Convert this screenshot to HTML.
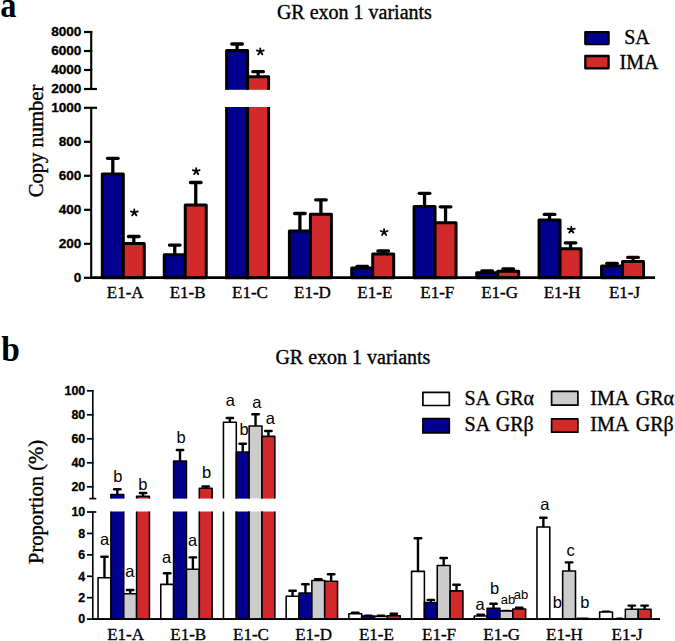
<!DOCTYPE html>
<html><head><meta charset="utf-8"><style>
html,body{margin:0;padding:0;background:#fff;width:675px;height:641px;overflow:hidden}
svg{display:block}
</style></head><body>
<svg width="675" height="641" viewBox="0 0 675 641">
<text transform="translate(0.2,16.8) scale(0.9,1)" font-family='"Liberation Serif", serif' font-size="36" font-weight="bold">a</text>
<text x="354.40" y="18.70" font-family='"Liberation Serif", serif' font-size="20" font-weight="normal" text-anchor="middle" stroke="#000" stroke-width="0.35" >GR exon 1 variants</text>
<text transform="translate(43.4,141) rotate(-90)" x="0" y="0" font-family='"Liberation Serif", serif' font-size="20.6" text-anchor="middle" stroke="#000" stroke-width="0.35">Copy number</text>
<line x1="91.20" y1="107.80" x2="91.20" y2="279.00" stroke="#000" stroke-width="2.1" stroke-linecap="butt"/>
<line x1="84.00" y1="277.80" x2="91.20" y2="277.80" stroke="#000" stroke-width="2.2" stroke-linecap="butt"/>
<text x="81.40" y="282.10" font-family='"Liberation Sans", sans-serif' font-size="13.6" font-weight="bold" text-anchor="end" stroke="#000" stroke-width="0.3" >0</text>
<line x1="84.00" y1="243.80" x2="91.20" y2="243.80" stroke="#000" stroke-width="2.2" stroke-linecap="butt"/>
<text x="81.40" y="248.10" font-family='"Liberation Sans", sans-serif' font-size="13.6" font-weight="bold" text-anchor="end" stroke="#000" stroke-width="0.3" >200</text>
<line x1="84.00" y1="209.80" x2="91.20" y2="209.80" stroke="#000" stroke-width="2.2" stroke-linecap="butt"/>
<text x="81.40" y="214.10" font-family='"Liberation Sans", sans-serif' font-size="13.6" font-weight="bold" text-anchor="end" stroke="#000" stroke-width="0.3" >400</text>
<line x1="84.00" y1="175.80" x2="91.20" y2="175.80" stroke="#000" stroke-width="2.2" stroke-linecap="butt"/>
<text x="81.40" y="180.10" font-family='"Liberation Sans", sans-serif' font-size="13.6" font-weight="bold" text-anchor="end" stroke="#000" stroke-width="0.3" >600</text>
<line x1="84.00" y1="141.80" x2="91.20" y2="141.80" stroke="#000" stroke-width="2.2" stroke-linecap="butt"/>
<text x="81.40" y="146.10" font-family='"Liberation Sans", sans-serif' font-size="13.6" font-weight="bold" text-anchor="end" stroke="#000" stroke-width="0.3" >800</text>
<line x1="84.00" y1="107.80" x2="97.00" y2="107.80" stroke="#000" stroke-width="2.2" stroke-linecap="butt"/>
<text x="81.40" y="112.10" font-family='"Liberation Sans", sans-serif' font-size="13.6" font-weight="bold" text-anchor="end" stroke="#000" stroke-width="0.3" >1000</text>
<line x1="91.20" y1="31.00" x2="91.20" y2="89.00" stroke="#000" stroke-width="2.1" stroke-linecap="butt"/>
<line x1="84.00" y1="32.00" x2="92.30" y2="32.00" stroke="#000" stroke-width="2.2" stroke-linecap="butt"/>
<text x="81.40" y="36.30" font-family='"Liberation Sans", sans-serif' font-size="13.6" font-weight="bold" text-anchor="end" stroke="#000" stroke-width="0.3" >8000</text>
<line x1="84.00" y1="51.00" x2="92.30" y2="51.00" stroke="#000" stroke-width="2.2" stroke-linecap="butt"/>
<text x="81.40" y="55.30" font-family='"Liberation Sans", sans-serif' font-size="13.6" font-weight="bold" text-anchor="end" stroke="#000" stroke-width="0.3" >6000</text>
<line x1="84.00" y1="70.00" x2="92.30" y2="70.00" stroke="#000" stroke-width="2.2" stroke-linecap="butt"/>
<text x="81.40" y="74.30" font-family='"Liberation Sans", sans-serif' font-size="13.6" font-weight="bold" text-anchor="end" stroke="#000" stroke-width="0.3" >4000</text>
<line x1="84.00" y1="89.00" x2="97.00" y2="89.00" stroke="#000" stroke-width="2.2" stroke-linecap="butt"/>
<text x="81.40" y="93.30" font-family='"Liberation Sans", sans-serif' font-size="13.6" font-weight="bold" text-anchor="end" stroke="#000" stroke-width="0.3" >2000</text>
<line x1="90.10" y1="277.80" x2="655.00" y2="277.80" stroke="#000" stroke-width="2.5" stroke-linecap="butt"/>
<line x1="112.80" y1="174.10" x2="112.80" y2="158.30" stroke="#000" stroke-width="3.3" stroke-linecap="butt"/>
<line x1="107.50" y1="158.30" x2="118.10" y2="158.30" stroke="#000" stroke-width="3.3" stroke-linecap="round"/>
<line x1="133.80" y1="243.50" x2="133.80" y2="236.50" stroke="#000" stroke-width="3.3" stroke-linecap="butt"/>
<line x1="128.50" y1="236.50" x2="139.10" y2="236.50" stroke="#000" stroke-width="3.3" stroke-linecap="round"/>
<rect x="102.30" y="174.10" width="21.00" height="103.70" fill="#00008c" stroke="#000" stroke-width="3" stroke-linejoin="round"/>
<rect x="123.30" y="243.50" width="21.00" height="34.30" fill="#d22a2a" stroke="#000" stroke-width="3" stroke-linejoin="round"/>
<line x1="174.75" y1="254.70" x2="174.75" y2="245.10" stroke="#000" stroke-width="3.3" stroke-linecap="butt"/>
<line x1="169.45" y1="245.10" x2="180.05" y2="245.10" stroke="#000" stroke-width="3.3" stroke-linecap="round"/>
<line x1="195.75" y1="204.90" x2="195.75" y2="182.50" stroke="#000" stroke-width="3.3" stroke-linecap="butt"/>
<line x1="190.45" y1="182.50" x2="201.05" y2="182.50" stroke="#000" stroke-width="3.3" stroke-linecap="round"/>
<rect x="164.25" y="254.70" width="21.00" height="23.10" fill="#00008c" stroke="#000" stroke-width="3" stroke-linejoin="round"/>
<rect x="185.25" y="204.90" width="21.00" height="72.90" fill="#d22a2a" stroke="#000" stroke-width="3" stroke-linejoin="round"/>
<line x1="237.10" y1="50.40" x2="237.10" y2="44.00" stroke="#000" stroke-width="3.3" stroke-linecap="butt"/>
<line x1="231.80" y1="44.00" x2="242.40" y2="44.00" stroke="#000" stroke-width="3.3" stroke-linecap="round"/>
<line x1="258.10" y1="76.70" x2="258.10" y2="71.70" stroke="#000" stroke-width="3.3" stroke-linecap="butt"/>
<line x1="252.80" y1="71.70" x2="263.40" y2="71.70" stroke="#000" stroke-width="3.3" stroke-linecap="round"/>
<path d="M226.60,89.8 V50.40 H247.60 V89.8" fill="#00008c" stroke="#000" stroke-width="3" stroke-linejoin="round"/>
<path d="M247.60,89.8 V76.70 H268.60 V89.8" fill="#d22a2a" stroke="#000" stroke-width="3" stroke-linejoin="round"/>
<path d="M226.60,107 V277.80 H247.60 V107" fill="#00008c" stroke="#000" stroke-width="3"/>
<path d="M247.60,107 V277.80 H268.60 V107" fill="#d22a2a" stroke="#000" stroke-width="3"/>
<line x1="299.90" y1="231.10" x2="299.90" y2="213.50" stroke="#000" stroke-width="3.3" stroke-linecap="butt"/>
<line x1="294.60" y1="213.50" x2="305.20" y2="213.50" stroke="#000" stroke-width="3.3" stroke-linecap="round"/>
<line x1="320.90" y1="214.30" x2="320.90" y2="199.80" stroke="#000" stroke-width="3.3" stroke-linecap="butt"/>
<line x1="315.60" y1="199.80" x2="326.20" y2="199.80" stroke="#000" stroke-width="3.3" stroke-linecap="round"/>
<rect x="289.40" y="231.10" width="21.00" height="46.70" fill="#00008c" stroke="#000" stroke-width="3" stroke-linejoin="round"/>
<rect x="310.40" y="214.30" width="21.00" height="63.50" fill="#d22a2a" stroke="#000" stroke-width="3" stroke-linejoin="round"/>
<line x1="362.20" y1="268.00" x2="362.20" y2="266.40" stroke="#000" stroke-width="3.3" stroke-linecap="butt"/>
<line x1="356.90" y1="266.40" x2="367.50" y2="266.40" stroke="#000" stroke-width="3.3" stroke-linecap="round"/>
<line x1="383.20" y1="253.90" x2="383.20" y2="251.00" stroke="#000" stroke-width="3.3" stroke-linecap="butt"/>
<line x1="377.90" y1="251.00" x2="388.50" y2="251.00" stroke="#000" stroke-width="3.3" stroke-linecap="round"/>
<rect x="351.70" y="268.00" width="21.00" height="9.80" fill="#00008c" stroke="#000" stroke-width="3" stroke-linejoin="round"/>
<rect x="372.70" y="253.90" width="21.00" height="23.90" fill="#d22a2a" stroke="#000" stroke-width="3" stroke-linejoin="round"/>
<line x1="424.55" y1="206.50" x2="424.55" y2="193.30" stroke="#000" stroke-width="3.3" stroke-linecap="butt"/>
<line x1="419.25" y1="193.30" x2="429.85" y2="193.30" stroke="#000" stroke-width="3.3" stroke-linecap="round"/>
<line x1="445.55" y1="222.80" x2="445.55" y2="206.80" stroke="#000" stroke-width="3.3" stroke-linecap="butt"/>
<line x1="440.25" y1="206.80" x2="450.85" y2="206.80" stroke="#000" stroke-width="3.3" stroke-linecap="round"/>
<rect x="414.05" y="206.50" width="21.00" height="71.30" fill="#00008c" stroke="#000" stroke-width="3" stroke-linejoin="round"/>
<rect x="435.05" y="222.80" width="21.00" height="55.00" fill="#d22a2a" stroke="#000" stroke-width="3" stroke-linejoin="round"/>
<line x1="487.20" y1="272.80" x2="487.20" y2="270.80" stroke="#000" stroke-width="3.3" stroke-linecap="butt"/>
<line x1="481.90" y1="270.80" x2="492.50" y2="270.80" stroke="#000" stroke-width="3.3" stroke-linecap="round"/>
<line x1="508.20" y1="271.20" x2="508.20" y2="268.80" stroke="#000" stroke-width="3.3" stroke-linecap="butt"/>
<line x1="502.90" y1="268.80" x2="513.50" y2="268.80" stroke="#000" stroke-width="3.3" stroke-linecap="round"/>
<rect x="476.70" y="272.80" width="21.00" height="5.00" fill="#00008c" stroke="#000" stroke-width="3" stroke-linejoin="round"/>
<rect x="497.70" y="271.20" width="21.00" height="6.60" fill="#d22a2a" stroke="#000" stroke-width="3" stroke-linejoin="round"/>
<line x1="549.55" y1="220.00" x2="549.55" y2="214.40" stroke="#000" stroke-width="3.3" stroke-linecap="butt"/>
<line x1="544.25" y1="214.40" x2="554.85" y2="214.40" stroke="#000" stroke-width="3.3" stroke-linecap="round"/>
<line x1="570.55" y1="248.70" x2="570.55" y2="242.80" stroke="#000" stroke-width="3.3" stroke-linecap="butt"/>
<line x1="565.25" y1="242.80" x2="575.85" y2="242.80" stroke="#000" stroke-width="3.3" stroke-linecap="round"/>
<rect x="539.05" y="220.00" width="21.00" height="57.80" fill="#00008c" stroke="#000" stroke-width="3" stroke-linejoin="round"/>
<rect x="560.05" y="248.70" width="21.00" height="29.10" fill="#d22a2a" stroke="#000" stroke-width="3" stroke-linejoin="round"/>
<line x1="612.05" y1="265.90" x2="612.05" y2="263.30" stroke="#000" stroke-width="3.3" stroke-linecap="butt"/>
<line x1="606.75" y1="263.30" x2="617.35" y2="263.30" stroke="#000" stroke-width="3.3" stroke-linecap="round"/>
<line x1="633.05" y1="261.50" x2="633.05" y2="257.40" stroke="#000" stroke-width="3.3" stroke-linecap="butt"/>
<line x1="627.75" y1="257.40" x2="638.35" y2="257.40" stroke="#000" stroke-width="3.3" stroke-linecap="round"/>
<rect x="601.55" y="265.90" width="21.00" height="11.90" fill="#00008c" stroke="#000" stroke-width="3" stroke-linejoin="round"/>
<rect x="622.55" y="261.50" width="21.00" height="16.30" fill="#d22a2a" stroke="#000" stroke-width="3" stroke-linejoin="round"/>
<line x1="90.10" y1="277.80" x2="655.00" y2="277.80" stroke="#000" stroke-width="2.5" stroke-linecap="butt"/>
<path d="M134.30,212.50 L134.30,209.50 M134.30,212.50 L137.75,211.40 M134.30,212.50 L136.40,215.40 M134.30,212.50 L132.20,215.40 M134.30,212.50 L130.85,211.40" stroke="#000" stroke-width="1.8" stroke-linecap="round" fill="none"/>
<path d="M196.20,171.20 L196.20,168.20 M196.20,171.20 L199.65,170.10 M196.20,171.20 L198.30,174.10 M196.20,171.20 L194.10,174.10 M196.20,171.20 L192.75,170.10" stroke="#000" stroke-width="1.8" stroke-linecap="round" fill="none"/>
<path d="M260.30,51.50 L260.30,48.50 M260.30,51.50 L263.75,50.40 M260.30,51.50 L262.40,54.40 M260.30,51.50 L258.20,54.40 M260.30,51.50 L256.85,50.40" stroke="#000" stroke-width="1.8" stroke-linecap="round" fill="none"/>
<path d="M384.10,232.10 L384.10,229.10 M384.10,232.10 L387.55,231.00 M384.10,232.10 L386.20,235.00 M384.10,232.10 L382.00,235.00 M384.10,232.10 L380.65,231.00" stroke="#000" stroke-width="1.8" stroke-linecap="round" fill="none"/>
<path d="M571.30,229.70 L571.30,226.70 M571.30,229.70 L574.75,228.60 M571.30,229.70 L573.40,232.60 M571.30,229.70 L569.20,232.60 M571.30,229.70 L567.85,228.60" stroke="#000" stroke-width="1.8" stroke-linecap="round" fill="none"/>
<text x="125.20" y="298.00" font-family='"Liberation Serif", serif' font-size="17" font-weight="normal" text-anchor="middle" stroke="#000" stroke-width="0.35" >E1-A</text>
<text x="187.61" y="298.00" font-family='"Liberation Serif", serif' font-size="17" font-weight="normal" text-anchor="middle" stroke="#000" stroke-width="0.35" >E1-B</text>
<text x="250.02" y="298.00" font-family='"Liberation Serif", serif' font-size="17" font-weight="normal" text-anchor="middle" stroke="#000" stroke-width="0.35" >E1-C</text>
<text x="312.43" y="298.00" font-family='"Liberation Serif", serif' font-size="17" font-weight="normal" text-anchor="middle" stroke="#000" stroke-width="0.35" >E1-D</text>
<text x="374.84" y="298.00" font-family='"Liberation Serif", serif' font-size="17" font-weight="normal" text-anchor="middle" stroke="#000" stroke-width="0.35" >E1-E</text>
<text x="437.25" y="298.00" font-family='"Liberation Serif", serif' font-size="17" font-weight="normal" text-anchor="middle" stroke="#000" stroke-width="0.35" >E1-F</text>
<text x="499.66" y="298.00" font-family='"Liberation Serif", serif' font-size="17" font-weight="normal" text-anchor="middle" stroke="#000" stroke-width="0.35" >E1-G</text>
<text x="562.07" y="298.00" font-family='"Liberation Serif", serif' font-size="17" font-weight="normal" text-anchor="middle" stroke="#000" stroke-width="0.35" >E1-H</text>
<text x="624.48" y="298.00" font-family='"Liberation Serif", serif' font-size="17" font-weight="normal" text-anchor="middle" stroke="#000" stroke-width="0.35" >E1-J</text>
<rect x="585.30" y="32.20" width="23.30" height="11.90" fill="#00008c" stroke="#000" stroke-width="2.3" stroke-linejoin="round"/>
<rect x="585.30" y="56.00" width="23.30" height="12.30" fill="#d22a2a" stroke="#000" stroke-width="2.3" stroke-linejoin="round"/>
<text x="637.00" y="44.20" font-family='"Liberation Serif", serif' font-size="20" font-weight="normal" text-anchor="middle" stroke="#000" stroke-width="0.35" >SA</text>
<text x="639.00" y="68.50" font-family='"Liberation Serif", serif' font-size="20" font-weight="normal" text-anchor="middle" stroke="#000" stroke-width="0.35" >IMA</text>
<text transform="translate(1.3,361.3) scale(0.93,1)" font-family='"Liberation Serif", serif' font-size="36" font-weight="bold">b</text>
<text x="352.90" y="363.70" font-family='"Liberation Serif", serif' font-size="20" font-weight="normal" text-anchor="middle" stroke="#000" stroke-width="0.35" >GR exon 1 variants</text>
<text transform="translate(42.5,502) rotate(-90)" x="0" y="0" font-family='"Liberation Serif", serif' font-size="20.6" text-anchor="middle" stroke="#000" stroke-width="0.35">Proportion (%)</text>
<line x1="92.80" y1="511.60" x2="92.80" y2="619.90" stroke="#000" stroke-width="1.6" stroke-linecap="butt"/>
<line x1="87.00" y1="619.10" x2="92.80" y2="619.10" stroke="#000" stroke-width="1.7" stroke-linecap="butt"/>
<text x="85.20" y="623.40" font-family='"Liberation Sans", sans-serif' font-size="12.4" font-weight="bold" text-anchor="end" stroke="#000" stroke-width="0.3" >0</text>
<line x1="87.00" y1="597.68" x2="92.80" y2="597.68" stroke="#000" stroke-width="1.7" stroke-linecap="butt"/>
<text x="85.20" y="601.98" font-family='"Liberation Sans", sans-serif' font-size="12.4" font-weight="bold" text-anchor="end" stroke="#000" stroke-width="0.3" >2</text>
<line x1="87.00" y1="576.26" x2="92.80" y2="576.26" stroke="#000" stroke-width="1.7" stroke-linecap="butt"/>
<text x="85.20" y="580.56" font-family='"Liberation Sans", sans-serif' font-size="12.4" font-weight="bold" text-anchor="end" stroke="#000" stroke-width="0.3" >4</text>
<line x1="87.00" y1="554.84" x2="92.80" y2="554.84" stroke="#000" stroke-width="1.7" stroke-linecap="butt"/>
<text x="85.20" y="559.14" font-family='"Liberation Sans", sans-serif' font-size="12.4" font-weight="bold" text-anchor="end" stroke="#000" stroke-width="0.3" >6</text>
<line x1="87.00" y1="533.42" x2="92.80" y2="533.42" stroke="#000" stroke-width="1.7" stroke-linecap="butt"/>
<text x="85.20" y="537.72" font-family='"Liberation Sans", sans-serif' font-size="12.4" font-weight="bold" text-anchor="end" stroke="#000" stroke-width="0.3" >8</text>
<line x1="87.00" y1="512.00" x2="96.30" y2="512.00" stroke="#000" stroke-width="1.7" stroke-linecap="butt"/>
<text x="85.20" y="516.30" font-family='"Liberation Sans", sans-serif' font-size="12.4" font-weight="bold" text-anchor="end" stroke="#000" stroke-width="0.3" >10</text>
<line x1="92.80" y1="390.40" x2="92.80" y2="498.60" stroke="#000" stroke-width="1.6" stroke-linecap="butt"/>
<line x1="87.00" y1="390.80" x2="93.60" y2="390.80" stroke="#000" stroke-width="1.7" stroke-linecap="butt"/>
<text x="85.20" y="395.10" font-family='"Liberation Sans", sans-serif' font-size="12.4" font-weight="bold" text-anchor="end" stroke="#000" stroke-width="0.3" >100</text>
<line x1="87.00" y1="414.80" x2="93.60" y2="414.80" stroke="#000" stroke-width="1.7" stroke-linecap="butt"/>
<text x="85.20" y="419.10" font-family='"Liberation Sans", sans-serif' font-size="12.4" font-weight="bold" text-anchor="end" stroke="#000" stroke-width="0.3" >80</text>
<line x1="87.00" y1="438.80" x2="93.60" y2="438.80" stroke="#000" stroke-width="1.7" stroke-linecap="butt"/>
<text x="85.20" y="443.10" font-family='"Liberation Sans", sans-serif' font-size="12.4" font-weight="bold" text-anchor="end" stroke="#000" stroke-width="0.3" >60</text>
<line x1="87.00" y1="462.80" x2="93.60" y2="462.80" stroke="#000" stroke-width="1.7" stroke-linecap="butt"/>
<text x="85.20" y="467.10" font-family='"Liberation Sans", sans-serif' font-size="12.4" font-weight="bold" text-anchor="end" stroke="#000" stroke-width="0.3" >40</text>
<line x1="87.00" y1="486.80" x2="93.60" y2="486.80" stroke="#000" stroke-width="1.7" stroke-linecap="butt"/>
<text x="85.20" y="491.10" font-family='"Liberation Sans", sans-serif' font-size="12.4" font-weight="bold" text-anchor="end" stroke="#000" stroke-width="0.3" >20</text>
<line x1="89.30" y1="498.60" x2="96.30" y2="498.60" stroke="#000" stroke-width="1.7" stroke-linecap="butt"/>
<line x1="91.90" y1="619.10" x2="660.00" y2="619.10" stroke="#000" stroke-width="1.6" stroke-linecap="butt"/>
<line x1="104.47" y1="577.67" x2="104.47" y2="556.70" stroke="#000" stroke-width="2.4" stroke-linecap="butt"/>
<line x1="101.27" y1="556.70" x2="107.67" y2="556.70" stroke="#000" stroke-width="2.4" stroke-linecap="round"/>
<rect x="98.05" y="577.67" width="12.85" height="41.43" fill="#ffffff" stroke="#000" stroke-width="1.55" stroke-linejoin="round"/>
<line x1="117.32" y1="494.47" x2="117.32" y2="489.20" stroke="#000" stroke-width="2.4" stroke-linecap="butt"/>
<line x1="114.12" y1="489.20" x2="120.52" y2="489.20" stroke="#000" stroke-width="2.4" stroke-linecap="round"/>
<path d="M110.90,498.60 V494.47 H123.75 V498.60" fill="#00008c" stroke="#000" stroke-width="1.55" stroke-linejoin="round"/>
<path d="M110.90,511.40 V619.10 H123.75 V511.40" fill="#00008c" stroke="#000" stroke-width="1.55"/>
<line x1="130.18" y1="593.77" x2="130.18" y2="590.00" stroke="#000" stroke-width="2.4" stroke-linecap="butt"/>
<line x1="126.98" y1="590.00" x2="133.38" y2="590.00" stroke="#000" stroke-width="2.4" stroke-linecap="round"/>
<rect x="123.75" y="593.77" width="12.85" height="25.33" fill="#cccccc" stroke="#000" stroke-width="1.55" stroke-linejoin="round"/>
<line x1="143.02" y1="496.38" x2="143.02" y2="493.00" stroke="#000" stroke-width="2.4" stroke-linecap="butt"/>
<line x1="139.82" y1="493.00" x2="146.22" y2="493.00" stroke="#000" stroke-width="2.4" stroke-linecap="round"/>
<path d="M136.60,498.60 V496.38 H149.45 V498.60" fill="#d22a2a" stroke="#000" stroke-width="1.55" stroke-linejoin="round"/>
<path d="M136.60,511.40 V619.10 H149.45 V511.40" fill="#d22a2a" stroke="#000" stroke-width="1.55"/>
<line x1="167.18" y1="584.38" x2="167.18" y2="573.20" stroke="#000" stroke-width="2.4" stroke-linecap="butt"/>
<line x1="163.98" y1="573.20" x2="170.38" y2="573.20" stroke="#000" stroke-width="2.4" stroke-linecap="round"/>
<rect x="160.75" y="584.38" width="12.85" height="34.73" fill="#ffffff" stroke="#000" stroke-width="1.55" stroke-linejoin="round"/>
<line x1="180.02" y1="460.97" x2="180.02" y2="450.00" stroke="#000" stroke-width="2.4" stroke-linecap="butt"/>
<line x1="176.82" y1="450.00" x2="183.22" y2="450.00" stroke="#000" stroke-width="2.4" stroke-linecap="round"/>
<path d="M173.60,498.60 V460.97 H186.45 V498.60" fill="#00008c" stroke="#000" stroke-width="1.55" stroke-linejoin="round"/>
<path d="M173.60,511.40 V619.10 H186.45 V511.40" fill="#00008c" stroke="#000" stroke-width="1.55"/>
<line x1="192.88" y1="569.17" x2="192.88" y2="557.40" stroke="#000" stroke-width="2.4" stroke-linecap="butt"/>
<line x1="189.68" y1="557.40" x2="196.07" y2="557.40" stroke="#000" stroke-width="2.4" stroke-linecap="round"/>
<rect x="186.45" y="569.17" width="12.85" height="49.93" fill="#cccccc" stroke="#000" stroke-width="1.55" stroke-linejoin="round"/>
<line x1="205.73" y1="488.17" x2="205.73" y2="486.50" stroke="#000" stroke-width="2.4" stroke-linecap="butt"/>
<line x1="202.53" y1="486.50" x2="208.93" y2="486.50" stroke="#000" stroke-width="2.4" stroke-linecap="round"/>
<path d="M199.30,498.60 V488.17 H212.15 V498.60" fill="#d22a2a" stroke="#000" stroke-width="1.55" stroke-linejoin="round"/>
<path d="M199.30,511.40 V619.10 H212.15 V511.40" fill="#d22a2a" stroke="#000" stroke-width="1.55"/>
<line x1="229.88" y1="422.27" x2="229.88" y2="418.00" stroke="#000" stroke-width="2.4" stroke-linecap="butt"/>
<line x1="226.68" y1="418.00" x2="233.07" y2="418.00" stroke="#000" stroke-width="2.4" stroke-linecap="round"/>
<path d="M223.45,498.60 V422.27 H236.30 V498.60" fill="#ffffff" stroke="#000" stroke-width="1.55" stroke-linejoin="round"/>
<path d="M223.45,511.40 V619.10 H236.30 V511.40" fill="#ffffff" stroke="#000" stroke-width="1.55"/>
<line x1="242.73" y1="451.97" x2="242.73" y2="443.70" stroke="#000" stroke-width="2.4" stroke-linecap="butt"/>
<line x1="239.53" y1="443.70" x2="245.93" y2="443.70" stroke="#000" stroke-width="2.4" stroke-linecap="round"/>
<path d="M236.30,498.60 V451.97 H249.15 V498.60" fill="#00008c" stroke="#000" stroke-width="1.55" stroke-linejoin="round"/>
<path d="M236.30,511.40 V619.10 H249.15 V511.40" fill="#00008c" stroke="#000" stroke-width="1.55"/>
<line x1="255.57" y1="425.97" x2="255.57" y2="414.20" stroke="#000" stroke-width="2.4" stroke-linecap="butt"/>
<line x1="252.38" y1="414.20" x2="258.77" y2="414.20" stroke="#000" stroke-width="2.4" stroke-linecap="round"/>
<path d="M249.15,498.60 V425.97 H262.00 V498.60" fill="#cccccc" stroke="#000" stroke-width="1.55" stroke-linejoin="round"/>
<path d="M249.15,511.40 V619.10 H262.00 V511.40" fill="#cccccc" stroke="#000" stroke-width="1.55"/>
<line x1="268.43" y1="436.38" x2="268.43" y2="431.00" stroke="#000" stroke-width="2.4" stroke-linecap="butt"/>
<line x1="265.23" y1="431.00" x2="271.62" y2="431.00" stroke="#000" stroke-width="2.4" stroke-linecap="round"/>
<path d="M262.00,498.60 V436.38 H274.85 V498.60" fill="#d22a2a" stroke="#000" stroke-width="1.55" stroke-linejoin="round"/>
<path d="M262.00,511.40 V619.10 H274.85 V511.40" fill="#d22a2a" stroke="#000" stroke-width="1.55"/>
<line x1="292.58" y1="596.17" x2="292.58" y2="590.70" stroke="#000" stroke-width="2.4" stroke-linecap="butt"/>
<line x1="289.38" y1="590.70" x2="295.78" y2="590.70" stroke="#000" stroke-width="2.4" stroke-linecap="round"/>
<rect x="286.15" y="596.17" width="12.85" height="22.93" fill="#ffffff" stroke="#000" stroke-width="1.55" stroke-linejoin="round"/>
<line x1="305.43" y1="592.98" x2="305.43" y2="584.30" stroke="#000" stroke-width="2.4" stroke-linecap="butt"/>
<line x1="302.23" y1="584.30" x2="308.63" y2="584.30" stroke="#000" stroke-width="2.4" stroke-linecap="round"/>
<rect x="299.00" y="592.98" width="12.85" height="26.12" fill="#00008c" stroke="#000" stroke-width="1.55" stroke-linejoin="round"/>
<line x1="318.28" y1="580.48" x2="318.28" y2="579.20" stroke="#000" stroke-width="2.4" stroke-linecap="butt"/>
<line x1="315.08" y1="579.20" x2="321.48" y2="579.20" stroke="#000" stroke-width="2.4" stroke-linecap="round"/>
<rect x="311.85" y="580.48" width="12.85" height="38.62" fill="#cccccc" stroke="#000" stroke-width="1.55" stroke-linejoin="round"/>
<line x1="331.13" y1="581.17" x2="331.13" y2="574.30" stroke="#000" stroke-width="2.4" stroke-linecap="butt"/>
<line x1="327.93" y1="574.30" x2="334.33" y2="574.30" stroke="#000" stroke-width="2.4" stroke-linecap="round"/>
<rect x="324.70" y="581.17" width="12.85" height="37.93" fill="#d22a2a" stroke="#000" stroke-width="1.55" stroke-linejoin="round"/>
<line x1="355.28" y1="613.77" x2="355.28" y2="612.60" stroke="#000" stroke-width="2.4" stroke-linecap="butt"/>
<line x1="352.08" y1="612.60" x2="358.48" y2="612.60" stroke="#000" stroke-width="2.4" stroke-linecap="round"/>
<rect x="348.85" y="613.77" width="12.85" height="5.33" fill="#ffffff" stroke="#000" stroke-width="1.55" stroke-linejoin="round"/>
<line x1="364.93" y1="615.60" x2="371.33" y2="615.60" stroke="#000" stroke-width="2.4" stroke-linecap="round"/>
<rect x="361.70" y="615.98" width="12.85" height="3.12" fill="#00008c" stroke="#000" stroke-width="1.55" stroke-linejoin="round"/>
<line x1="377.78" y1="615.80" x2="384.18" y2="615.80" stroke="#000" stroke-width="2.4" stroke-linecap="round"/>
<rect x="374.55" y="616.17" width="12.85" height="2.93" fill="#cccccc" stroke="#000" stroke-width="1.55" stroke-linejoin="round"/>
<line x1="393.83" y1="615.77" x2="393.83" y2="613.80" stroke="#000" stroke-width="2.4" stroke-linecap="butt"/>
<line x1="390.63" y1="613.80" x2="397.03" y2="613.80" stroke="#000" stroke-width="2.4" stroke-linecap="round"/>
<rect x="387.40" y="615.77" width="12.85" height="3.33" fill="#d22a2a" stroke="#000" stroke-width="1.55" stroke-linejoin="round"/>
<line x1="417.98" y1="571.38" x2="417.98" y2="538.30" stroke="#000" stroke-width="2.4" stroke-linecap="butt"/>
<line x1="414.78" y1="538.30" x2="421.18" y2="538.30" stroke="#000" stroke-width="2.4" stroke-linecap="round"/>
<rect x="411.55" y="571.38" width="12.85" height="47.73" fill="#ffffff" stroke="#000" stroke-width="1.55" stroke-linejoin="round"/>
<line x1="430.83" y1="602.58" x2="430.83" y2="599.90" stroke="#000" stroke-width="2.4" stroke-linecap="butt"/>
<line x1="427.63" y1="599.90" x2="434.03" y2="599.90" stroke="#000" stroke-width="2.4" stroke-linecap="round"/>
<rect x="424.40" y="602.58" width="12.85" height="16.52" fill="#00008c" stroke="#000" stroke-width="1.55" stroke-linejoin="round"/>
<line x1="443.68" y1="565.58" x2="443.68" y2="558.00" stroke="#000" stroke-width="2.4" stroke-linecap="butt"/>
<line x1="440.48" y1="558.00" x2="446.88" y2="558.00" stroke="#000" stroke-width="2.4" stroke-linecap="round"/>
<rect x="437.25" y="565.58" width="12.85" height="53.52" fill="#cccccc" stroke="#000" stroke-width="1.55" stroke-linejoin="round"/>
<line x1="456.53" y1="590.88" x2="456.53" y2="584.80" stroke="#000" stroke-width="2.4" stroke-linecap="butt"/>
<line x1="453.33" y1="584.80" x2="459.73" y2="584.80" stroke="#000" stroke-width="2.4" stroke-linecap="round"/>
<rect x="450.10" y="590.88" width="12.85" height="28.23" fill="#d22a2a" stroke="#000" stroke-width="1.55" stroke-linejoin="round"/>
<line x1="480.68" y1="615.98" x2="480.68" y2="614.80" stroke="#000" stroke-width="2.4" stroke-linecap="butt"/>
<line x1="477.48" y1="614.80" x2="483.88" y2="614.80" stroke="#000" stroke-width="2.4" stroke-linecap="round"/>
<rect x="474.25" y="615.98" width="12.85" height="3.12" fill="#ffffff" stroke="#000" stroke-width="1.55" stroke-linejoin="round"/>
<line x1="493.53" y1="608.27" x2="493.53" y2="603.70" stroke="#000" stroke-width="2.4" stroke-linecap="butt"/>
<line x1="490.33" y1="603.70" x2="496.73" y2="603.70" stroke="#000" stroke-width="2.4" stroke-linecap="round"/>
<rect x="487.10" y="608.27" width="12.85" height="10.83" fill="#00008c" stroke="#000" stroke-width="1.55" stroke-linejoin="round"/>
<line x1="503.18" y1="611.00" x2="509.58" y2="611.00" stroke="#000" stroke-width="2.4" stroke-linecap="round"/>
<rect x="499.95" y="610.88" width="12.85" height="8.23" fill="#cccccc" stroke="#000" stroke-width="1.55" stroke-linejoin="round"/>
<line x1="519.23" y1="608.98" x2="519.23" y2="607.80" stroke="#000" stroke-width="2.4" stroke-linecap="butt"/>
<line x1="516.03" y1="607.80" x2="522.43" y2="607.80" stroke="#000" stroke-width="2.4" stroke-linecap="round"/>
<rect x="512.80" y="608.98" width="12.85" height="10.12" fill="#d22a2a" stroke="#000" stroke-width="1.55" stroke-linejoin="round"/>
<line x1="543.38" y1="527.08" x2="543.38" y2="517.70" stroke="#000" stroke-width="2.4" stroke-linecap="butt"/>
<line x1="540.17" y1="517.70" x2="546.58" y2="517.70" stroke="#000" stroke-width="2.4" stroke-linecap="round"/>
<rect x="536.95" y="527.08" width="12.85" height="92.02" fill="#ffffff" stroke="#000" stroke-width="1.55" stroke-linejoin="round"/>
<line x1="569.08" y1="570.98" x2="569.08" y2="562.40" stroke="#000" stroke-width="2.4" stroke-linecap="butt"/>
<line x1="565.88" y1="562.40" x2="572.28" y2="562.40" stroke="#000" stroke-width="2.4" stroke-linecap="round"/>
<rect x="562.65" y="570.98" width="12.85" height="48.12" fill="#cccccc" stroke="#000" stroke-width="1.55" stroke-linejoin="round"/>
<line x1="602.88" y1="611.70" x2="609.28" y2="611.70" stroke="#000" stroke-width="2.4" stroke-linecap="round"/>
<rect x="599.65" y="612.08" width="12.85" height="7.02" fill="#ffffff" stroke="#000" stroke-width="1.55" stroke-linejoin="round"/>
<line x1="631.78" y1="609.27" x2="631.78" y2="605.60" stroke="#000" stroke-width="2.4" stroke-linecap="butt"/>
<line x1="628.58" y1="605.60" x2="634.98" y2="605.60" stroke="#000" stroke-width="2.4" stroke-linecap="round"/>
<rect x="625.35" y="609.27" width="12.85" height="9.83" fill="#cccccc" stroke="#000" stroke-width="1.55" stroke-linejoin="round"/>
<line x1="644.62" y1="609.27" x2="644.62" y2="605.60" stroke="#000" stroke-width="2.4" stroke-linecap="butt"/>
<line x1="641.42" y1="605.60" x2="647.83" y2="605.60" stroke="#000" stroke-width="2.4" stroke-linecap="round"/>
<rect x="638.20" y="609.27" width="12.85" height="9.83" fill="#d22a2a" stroke="#000" stroke-width="1.55" stroke-linejoin="round"/>
<line x1="91.90" y1="619.10" x2="660.00" y2="619.10" stroke="#000" stroke-width="1.6" stroke-linecap="butt"/>
<line x1="576.80" y1="618.30" x2="588.40" y2="618.30" stroke="#000" stroke-width="1.6" stroke-linecap="butt"/>
<line x1="616.50" y1="618.30" x2="622.50" y2="618.30" stroke="#000" stroke-width="1.6" stroke-linecap="butt"/>
<text x="104.60" y="544.80" font-family='"Liberation Sans", sans-serif' font-size="16.5" font-weight="normal" text-anchor="middle" >a</text>
<text x="117.80" y="481.70" font-family='"Liberation Sans", sans-serif' font-size="16.5" font-weight="normal" text-anchor="middle" >b</text>
<text x="129.80" y="576.70" font-family='"Liberation Sans", sans-serif' font-size="16.5" font-weight="normal" text-anchor="middle" >a</text>
<text x="142.90" y="489.70" font-family='"Liberation Sans", sans-serif' font-size="16.5" font-weight="normal" text-anchor="middle" >b</text>
<text x="166.50" y="562.60" font-family='"Liberation Sans", sans-serif' font-size="16.5" font-weight="normal" text-anchor="middle" >a</text>
<text x="181.10" y="442.50" font-family='"Liberation Sans", sans-serif' font-size="16.5" font-weight="normal" text-anchor="middle" >b</text>
<text x="192.70" y="546.30" font-family='"Liberation Sans", sans-serif' font-size="16.5" font-weight="normal" text-anchor="middle" >a</text>
<text x="206.50" y="478.00" font-family='"Liberation Sans", sans-serif' font-size="16.5" font-weight="normal" text-anchor="middle" >b</text>
<text x="230.30" y="406.00" font-family='"Liberation Sans", sans-serif' font-size="16.5" font-weight="normal" text-anchor="middle" >a</text>
<text x="244.00" y="435.30" font-family='"Liberation Sans", sans-serif' font-size="16.5" font-weight="normal" text-anchor="middle" >b</text>
<text x="256.80" y="408.20" font-family='"Liberation Sans", sans-serif' font-size="16.5" font-weight="normal" text-anchor="middle" >a</text>
<text x="270.40" y="423.50" font-family='"Liberation Sans", sans-serif' font-size="16.5" font-weight="normal" text-anchor="middle" >a</text>
<text x="480.00" y="609.90" font-family='"Liberation Sans", sans-serif' font-size="16.5" font-weight="normal" text-anchor="middle" >a</text>
<text x="494.50" y="593.90" font-family='"Liberation Sans", sans-serif' font-size="16.5" font-weight="normal" text-anchor="middle" >b</text>
<text x="508.00" y="604.20" font-family='"Liberation Sans", sans-serif' font-size="13" font-weight="normal" text-anchor="middle" >ab</text>
<text x="521.00" y="598.50" font-family='"Liberation Sans", sans-serif' font-size="13" font-weight="normal" text-anchor="middle" >ab</text>
<text x="544.80" y="509.70" font-family='"Liberation Sans", sans-serif' font-size="16.5" font-weight="normal" text-anchor="middle" >a</text>
<text x="557.30" y="608.20" font-family='"Liberation Sans", sans-serif' font-size="16.5" font-weight="normal" text-anchor="middle" >b</text>
<text x="570.50" y="555.60" font-family='"Liberation Sans", sans-serif' font-size="16.5" font-weight="normal" text-anchor="middle" >c</text>
<text x="584.80" y="608.20" font-family='"Liberation Sans", sans-serif' font-size="16.5" font-weight="normal" text-anchor="middle" >b</text>
<text x="125.55" y="640.00" font-family='"Liberation Serif", serif' font-size="17" font-weight="normal" text-anchor="middle" stroke="#000" stroke-width="0.35" >E1-A</text>
<text x="188.25" y="640.00" font-family='"Liberation Serif", serif' font-size="17" font-weight="normal" text-anchor="middle" stroke="#000" stroke-width="0.35" >E1-B</text>
<text x="250.95" y="640.00" font-family='"Liberation Serif", serif' font-size="17" font-weight="normal" text-anchor="middle" stroke="#000" stroke-width="0.35" >E1-C</text>
<text x="313.65" y="640.00" font-family='"Liberation Serif", serif' font-size="17" font-weight="normal" text-anchor="middle" stroke="#000" stroke-width="0.35" >E1-D</text>
<text x="376.35" y="640.00" font-family='"Liberation Serif", serif' font-size="17" font-weight="normal" text-anchor="middle" stroke="#000" stroke-width="0.35" >E1-E</text>
<text x="439.05" y="640.00" font-family='"Liberation Serif", serif' font-size="17" font-weight="normal" text-anchor="middle" stroke="#000" stroke-width="0.35" >E1-F</text>
<text x="501.75" y="640.00" font-family='"Liberation Serif", serif' font-size="17" font-weight="normal" text-anchor="middle" stroke="#000" stroke-width="0.35" >E1-G</text>
<text x="564.45" y="640.00" font-family='"Liberation Serif", serif' font-size="17" font-weight="normal" text-anchor="middle" stroke="#000" stroke-width="0.35" >E1-H</text>
<text x="627.15" y="640.00" font-family='"Liberation Serif", serif' font-size="17" font-weight="normal" text-anchor="middle" stroke="#000" stroke-width="0.35" >E1-J</text>
<rect x="422.90" y="392.40" width="26.40" height="13.10" fill="#ffffff" stroke="#000" stroke-width="1.7" stroke-linejoin="round"/>
<rect x="422.90" y="418.70" width="26.40" height="14.20" fill="#00008c" stroke="#000" stroke-width="1.7" stroke-linejoin="round"/>
<rect x="551.60" y="391.40" width="26.30" height="13.80" fill="#cccccc" stroke="#000" stroke-width="1.7" stroke-linejoin="round"/>
<rect x="551.60" y="418.90" width="26.30" height="13.30" fill="#d22a2a" stroke="#000" stroke-width="1.7" stroke-linejoin="round"/>
<text x="464.60" y="404.50" font-family='"Liberation Serif", serif' font-size="20" font-weight="normal" text-anchor="start" stroke="#000" stroke-width="0.35" >SA</text>
<text x="495.70" y="404.50" font-family='"Liberation Serif", serif' font-size="20" font-weight="normal" text-anchor="start" stroke="#000" stroke-width="0.35" >GR&#945;</text>
<text x="464.60" y="430.50" font-family='"Liberation Serif", serif' font-size="20" font-weight="normal" text-anchor="start" stroke="#000" stroke-width="0.35" >SA</text>
<text x="495.70" y="430.50" font-family='"Liberation Serif", serif' font-size="20" font-weight="normal" text-anchor="start" stroke="#000" stroke-width="0.35" >GR&#946;</text>
<text x="590.30" y="405.00" font-family='"Liberation Serif", serif' font-size="20" font-weight="normal" text-anchor="start" stroke="#000" stroke-width="0.35" >IMA</text>
<text x="635.70" y="405.00" font-family='"Liberation Serif", serif' font-size="20" font-weight="normal" text-anchor="start" stroke="#000" stroke-width="0.35" >GR&#945;</text>
<text x="590.30" y="430.70" font-family='"Liberation Serif", serif' font-size="20" font-weight="normal" text-anchor="start" stroke="#000" stroke-width="0.35" >IMA</text>
<text x="635.70" y="430.70" font-family='"Liberation Serif", serif' font-size="20" font-weight="normal" text-anchor="start" stroke="#000" stroke-width="0.35" >GR&#946;</text>
</svg>
</body></html>
